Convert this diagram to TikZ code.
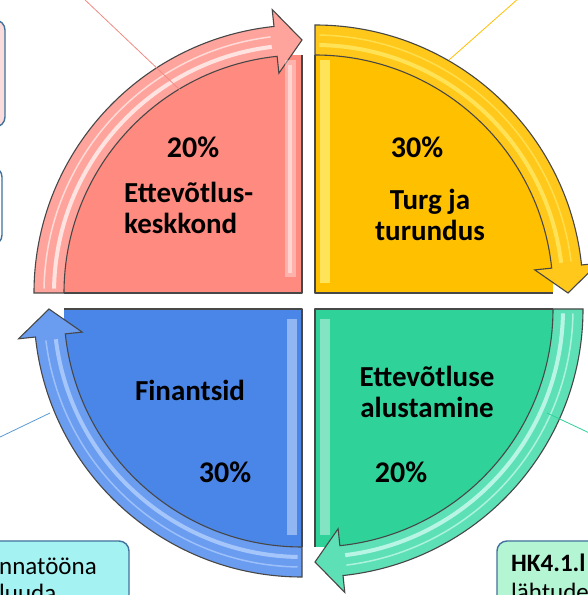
\documentclass[tikz,border=0pt]{standalone}
\usepackage{fontspec}
\setmainfont{Carlito}
\definecolor{redmain}{HTML}{FF8A80}
\definecolor{redband}{HTML}{FFA49C}
\definecolor{redhi}{HTML}{FFFFFF}
\definecolor{yelmain}{HTML}{FFC000}
\definecolor{yelband}{HTML}{FFC81A}
\definecolor{yelhi}{HTML}{FFEE70}
\definecolor{grnmain}{HTML}{2FD39A}
\definecolor{grnband}{HTML}{5EE0B6}
\definecolor{grnhi}{HTML}{E0FFF8}
\definecolor{blumain}{HTML}{4A86E8}
\definecolor{bluband}{HTML}{6A9CF0}
\definecolor{bluhi}{HTML}{BFD8FF}
\definecolor{boxblue}{HTML}{41719C}
\definecolor{boxpink}{HTML}{FBDCDC}
\definecolor{boxcyan}{HTML}{A4F2F2}
\definecolor{boxgreen}{HTML}{B4F5D4}
\definecolor{redline}{HTML}{F08C84}
\definecolor{blueline}{HTML}{5B9BD5}
\newcommand{\qpart}[5]{%
 \begin{scope}[shift={#1},rotate=#2]
  \fill[#3] (0,0) -- (180:238) arc[start angle=180,end angle=90,radius=238] -- cycle;
  \draw[outl,fill=#4] (180:238) -- (180:268) arc[start angle=180,end angle=96,radius=268]
     -- (96:285) -- (90:253) -- (96:221) -- (96:238)
     arc[start angle=96,end angle=180,radius=238] -- cycle;
  \draw[#5, line width=4pt, opacity=0.7] (179:248) arc[start angle=179,end angle=97,radius=248];
  \draw[#5, line width=1.5pt, opacity=0.6] (179:258) arc[start angle=179,end angle=97,radius=258];
  \draw[outl,line join=round] (180:238) -- (0,0) -- (90:238);
 \end{scope}}
\begin{document}
\begin{tikzpicture}[x=1pt,y=1pt,
  lbl/.style={font=\bfseries\fontsize{29}{31}\selectfont, text=black, inner sep=0pt},
  pct/.style={font=\bfseries\fontsize{30}{31}\selectfont, text=black, inner sep=0pt},
  outl/.style={draw=black!72, line width=1.1pt},
  tbox/.style={draw=boxblue, line width=1.4pt, rounded corners=10pt, inner sep=0pt},
  btxt/.style={font=\fontsize{25}{27}\selectfont, text=black, inner sep=0pt, anchor=west},
  conn/.style={line width=0.8pt}]
\clip (0,0) rectangle (588,595);
\fill[white] (0,0) rectangle (588,595);

% text boxes on the left
\node[tbox, fill=boxpink, minimum width=45pt, minimum height=107pt] (tl1) at (-17.5,521.5) {};
\node[tbox, fill=white, minimum width=42pt, minimum height=78pt] (tl2) at (-19,389) {};

% quadrants
\qpart{(302,302)}{0}{redmain}{redband}{redhi}
\qpart{(315,302)}{-90}{yelmain}{yelband}{yelhi}
\qpart{(315,286)}{-180}{grnmain}{grnband}{grnhi}
\qpart{(302,286)}{-270}{blumain}{bluband}{bluhi}

% bevel highlights near the centre
\fill[white, opacity=0.35] (285,318) rectangle (296,535);
\fill[white, opacity=0.45] (288,322) rectangle (292,530);
\fill[yelhi, opacity=0.8] (320,312) rectangle (330,535);
\fill[white, opacity=0.4] (287,60) rectangle (297,276);
\fill[white, opacity=0.4] (320,60) rectangle (330,276);

% labels
\node[pct] (p1) at (193,448) {20\%};
\node[lbl, align=left, anchor=north west] (t1) at (124,413) {Ettevõtlus-\\keskkond};
\node[pct] (p2) at (417,448) {30\%};
\node[lbl, align=center] (t2) at (430,380) {Turg ja\\turundus};
\node[lbl] (t3) at (190,205) {Finantsid};
\node[pct] (p3) at (225,123) {30\%};
\node[lbl, align=center] (t4) at (427,203.5) {Ettevõtluse\\alustamine};
\node[pct] (p4) at (401,123) {20\%};

% connectors
\coordinate (rl1) at (83,597);
\coordinate (rl2) at (180,505);
\draw[conn, draw=redline] (rl1) -- (rl2);
\coordinate (yl1) at (519,597);
\coordinate (yl2) at (449,535);
\draw[conn, draw=yelmain] (yl1) -- (yl2);
\coordinate (bl1) at (-2,157);
\coordinate (bl2) at (50,182);
\draw[conn, draw=blueline] (bl1) -- (bl2);
\coordinate (gl1) at (547,182);
\coordinate (gl2) at (600,157);
\draw[conn, draw=grnmain] (gl1) -- (gl2);

% bottom text boxes
\node[tbox, fill=boxcyan, minimum width=169pt, minimum height=84pt] (bb1) at (44.5,12) {};
\node[btxt] (bt1) at (-1,29) {nnatööna};
\node[btxt] (bt2) at (-1,2) {luuda};
\node[tbox, fill=boxgreen, minimum width=143pt, minimum height=84pt] (bb2) at (568.5,12) {};
\node[btxt, font=\bfseries\fontsize{25}{27}\selectfont] (bt3) at (511,32) {HK4.1.l};
\node[btxt] (bt4) at (511,3) {lähtudes};
\end{tikzpicture}
\end{document}
